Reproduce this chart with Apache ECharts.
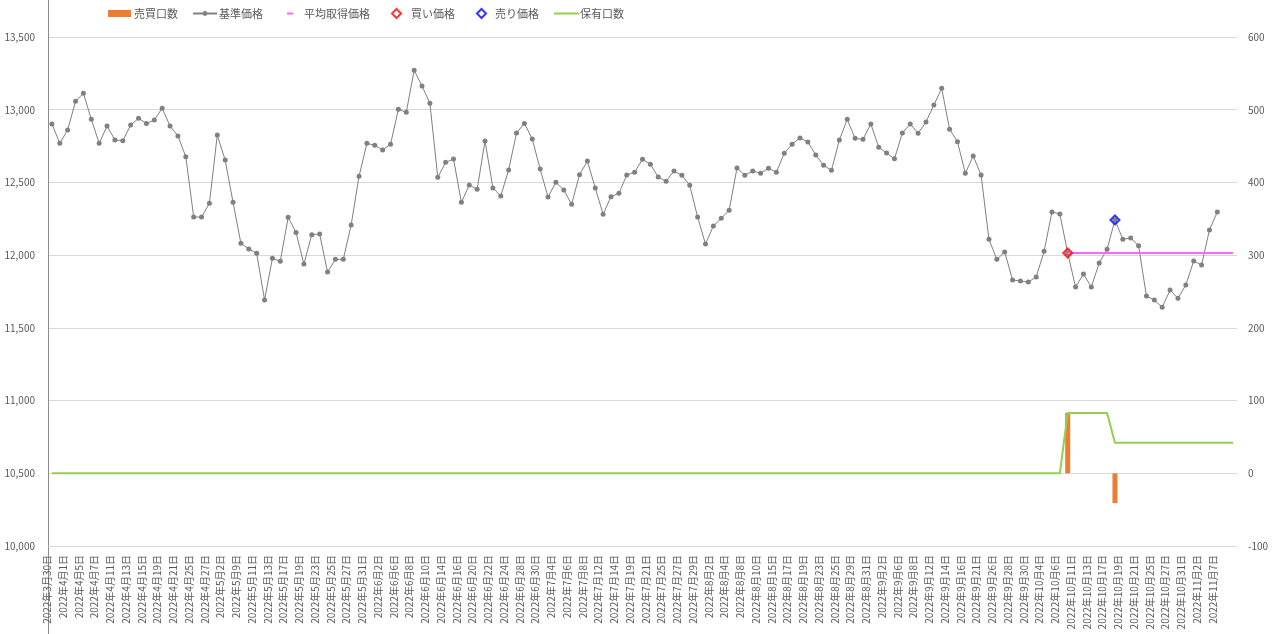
<!DOCTYPE html>
<html>
<head>
<meta charset="utf-8">
<script src="https://cdn.jsdelivr.net/npm/echarts@6/dist/echarts.min.js"></script>
<style>
html,body{margin:0;padding:0;background:#fff;}
#c{width:1273px;height:634px;}
</style>
</head>
<body>
<div id="c"></div>
<script>
const dates = [
'2022年3月30日','2022年3月31日',
'2022年4月1日','2022年4月4日','2022年4月5日','2022年4月6日','2022年4月7日','2022年4月8日','2022年4月11日','2022年4月12日','2022年4月13日','2022年4月14日','2022年4月15日','2022年4月18日','2022年4月19日','2022年4月20日','2022年4月21日','2022年4月22日','2022年4月25日','2022年4月26日','2022年4月27日','2022年4月28日',
'2022年5月2日','2022年5月6日','2022年5月9日','2022年5月10日','2022年5月11日','2022年5月12日','2022年5月13日','2022年5月16日','2022年5月17日','2022年5月18日','2022年5月19日','2022年5月20日','2022年5月23日','2022年5月24日','2022年5月25日','2022年5月26日','2022年5月27日','2022年5月30日','2022年5月31日',
'2022年6月1日','2022年6月2日','2022年6月3日','2022年6月6日','2022年6月7日','2022年6月8日','2022年6月9日','2022年6月10日','2022年6月13日','2022年6月14日','2022年6月15日','2022年6月16日','2022年6月17日','2022年6月20日','2022年6月21日','2022年6月22日','2022年6月23日','2022年6月24日','2022年6月27日','2022年6月28日','2022年6月29日','2022年6月30日',
'2022年7月1日','2022年7月4日','2022年7月5日','2022年7月6日','2022年7月7日','2022年7月8日','2022年7月11日','2022年7月12日','2022年7月13日','2022年7月14日','2022年7月15日','2022年7月19日','2022年7月20日','2022年7月21日','2022年7月22日','2022年7月25日','2022年7月26日','2022年7月27日','2022年7月28日','2022年7月29日',
'2022年8月1日','2022年8月2日','2022年8月3日','2022年8月4日','2022年8月5日','2022年8月8日','2022年8月9日','2022年8月10日','2022年8月12日','2022年8月15日','2022年8月16日','2022年8月17日','2022年8月18日','2022年8月19日','2022年8月22日','2022年8月23日','2022年8月24日','2022年8月25日','2022年8月26日','2022年8月29日','2022年8月30日','2022年8月31日',
'2022年9月1日','2022年9月2日','2022年9月5日','2022年9月6日','2022年9月7日','2022年9月8日','2022年9月9日','2022年9月12日','2022年9月13日','2022年9月14日','2022年9月15日','2022年9月16日','2022年9月20日','2022年9月21日','2022年9月22日','2022年9月26日','2022年9月27日','2022年9月28日','2022年9月29日','2022年9月30日',
'2022年10月3日','2022年10月4日','2022年10月5日','2022年10月6日','2022年10月7日','2022年10月11日','2022年10月12日','2022年10月13日','2022年10月14日','2022年10月17日','2022年10月18日','2022年10月19日','2022年10月20日','2022年10月21日','2022年10月24日','2022年10月25日','2022年10月26日','2022年10月27日','2022年10月28日','2022年10月31日',
'2022年11月1日','2022年11月2日','2022年11月4日','2022年11月7日'
];
// two trailing unlabeled categories
const extraCategories = ['', ''];

const basePrice = [
12902,12769,12861,13058,13113,12934,12769,12888,12792,12787,
12895,12941,12906,12929,13010,12888,12819,12677,12262,12262,
12356,12826,12654,12363,12081,12042,12013,11692,11978,11958,
12260,12155,11939,12141,12145,11884,11971,11971,12207,12542,
12769,12755,12723,12762,13003,12982,13271,13163,13044,12535,
12638,12661,12363,12482,12453,12785,12462,12407,12585,12840,
12906,12799,12592,12400,12501,12448,12350,12553,12647,12462,
12281,12402,12425,12551,12570,12659,12625,12537,12508,12579,
12549,12480,12262,12077,12200,12253,12308,12599,12549,12579,
12563,12597,12570,12700,12762,12806,12778,12689,12618,12583,
12792,12934,12803,12797,12902,12742,12702,12663,12840,12902,
12838,12916,13032,13147,12865,12780,12563,12682,12551,12109,
11971,12022,11829,11822,11815,11850,12026,12297,12283,12015,
11781,11870,11781,11946,12040,12242,12109,12118,12065,11719,
11692,11641,11760,11703,11795,11960,11932,12173,12297
];

// trade events: [category index, units, price]
const buyTrade = [129, 83, 12015];
const sellTrade = [135, -41, 12242];
const avgCost = 12015;

const leftTicks = {min: 10000, max: 13500, interval: 500};
const rightTicks = {min: -100, max: 600, interval: 100};

const categories = dates.concat(extraCategories);

// derived series
const tradeUnits = categories.map((d, i) => i === buyTrade[0] ? buyTrade[1] : (i === sellTrade[0] ? sellTrade[1] : '-'));
const buyPrice = categories.map((d, i) => i === buyTrade[0] ? buyTrade[2] : '-');
const sellPrice = categories.map((d, i) => i === sellTrade[0] ? sellTrade[2] : '-');
const avgLine = categories.map((d, i) => i >= buyTrade[0] ? avgCost : '-');
let held = 0;
const holdings = categories.map((d, i) => {
  if (i === buyTrade[0]) held += buyTrade[1];
  if (i === sellTrade[0]) held += sellTrade[1];
  return held;
});

const FONT = 'Noto Sans CJK JP';
const TXT = '#595959';

function legendAt(name, left, extra, textPad) {
  return Object.assign({
    data: [name], left: left, top: 8, itemGap: 0, padding: 0,
    textStyle: {fontFamily: FONT, fontSize: 11, color: TXT, padding: [0, 0, 0, textPad]},
    selectedMode: false
  }, extra || {});
}

const chart = echarts.init(document.getElementById('c'), null, {renderer: 'canvas'});
chart.setOption({
  animation: false,
  backgroundColor: '#fff',
  textStyle: {fontFamily: FONT},
  legend: [
    legendAt('売買口数', 108, {icon: 'rect', itemWidth: 23, itemHeight: 7}, -2),
    legendAt('基準価格', 192, {itemWidth: 24, itemHeight: 6}, -3),
    legendAt('平均取得価格', 287, {icon: 'rect', itemWidth: 6, itemHeight: 2}, 6),
    legendAt('買い価格', 391, {itemWidth: 9, itemHeight: 9}, 5),
    legendAt('売り価格', 476, {itemWidth: 9, itemHeight: 9}, 4),
    legendAt('保有口数', 554, {icon: 'rect', itemWidth: 25, itemHeight: 2}, -4)
  ],
  grid: {left: 48, right: 36, top: 37, bottom: 88, containLabel: false},
  xAxis: {
    type: 'category',
    data: categories,
    boundaryGap: true,
    axisLine: {show: false},
    axisTick: {show: false},
    axisLabel: {
      interval: 1, rotate: 90, margin: 9,
      fontFamily: FONT, fontSize: 10, color: TXT,
      verticalAlign: 'bottom', lineHeight: 9
    },
    splitLine: {show: false}
  },
  yAxis: [
    {
      type: 'value', position: 'left',
      min: leftTicks.min, max: leftTicks.max, interval: leftTicks.interval,
      axisLine: {show: true, lineStyle: {color: '#8C8C8C', width: 1}},
      axisTick: {show: false},
      axisLabel: {
        margin: 13, fontFamily: FONT, fontSize: 10, color: TXT,
        formatter: v => v.toLocaleString('en-US')
      },
      splitLine: {show: true, lineStyle: {color: '#D9D9D9', width: 1}}
    },
    {
      type: 'value', position: 'right',
      min: rightTicks.min, max: rightTicks.max, interval: rightTicks.interval,
      axisLine: {show: false},
      axisTick: {show: false},
      axisLabel: {margin: 11, fontFamily: FONT, fontSize: 10, color: TXT},
      splitLine: {show: false}
    }
  ],
  graphic: [{
    type: 'line', silent: true, z: 0,
    shape: {x1: 48.5, y1: 0, x2: 48.5, y2: 634},
    style: {stroke: '#8C8C8C', lineWidth: 1}
  }],
  series: [
    {
      name: '売買口数', type: 'bar', yAxisIndex: 1,
      data: tradeUnits, barWidth: 5,
      itemStyle: {color: '#ED7D31'}, z: 1
    },
    {
      name: '基準価格', type: 'line', yAxisIndex: 0,
      data: basePrice, symbol: 'circle', symbolSize: 5, showSymbol: true,
      lineStyle: {color: '#808080', width: 1},
      itemStyle: {color: '#808080'}, z: 3
    },
    {
      name: '平均取得価格', type: 'line', yAxisIndex: 0,
      data: avgLine, symbol: 'none',
      lineStyle: {color: '#FF66FF', width: 2},
      itemStyle: {color: '#FF66FF'}, z: 4
    },
    {
      name: '買い価格', type: 'scatter', yAxisIndex: 0,
      data: buyPrice, symbol: 'diamond', symbolSize: 9,
      itemStyle: {color: 'rgba(255,255,255,0)', borderColor: '#FF0000', borderWidth: 2}, z: 6
    },
    {
      name: '売り価格', type: 'scatter', yAxisIndex: 0,
      data: sellPrice, symbol: 'diamond', symbolSize: 9,
      itemStyle: {color: 'rgba(255,255,255,0)', borderColor: '#0000FF', borderWidth: 2}, z: 6
    },
    {
      name: '保有口数', type: 'line', yAxisIndex: 1,
      data: holdings, symbol: 'none',
      lineStyle: {color: '#92D050', width: 2},
      itemStyle: {color: '#92D050'}, z: 2
    }
  ]
});
</script>
</body>
</html>
